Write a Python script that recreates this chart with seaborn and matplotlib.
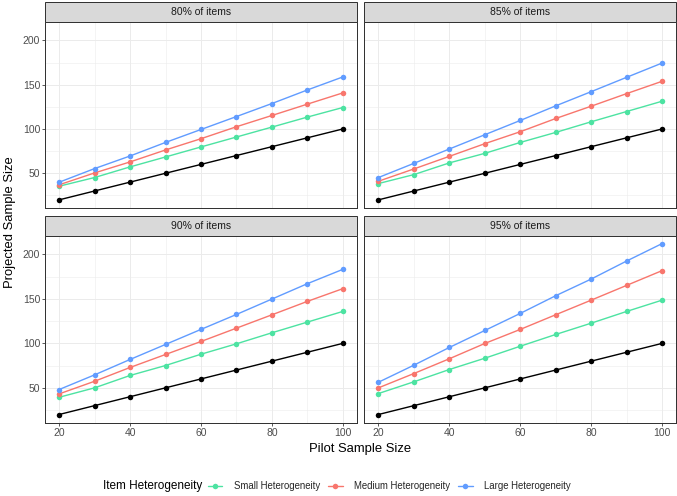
import numpy as np
import pandas as pd
import matplotlib
matplotlib.use("Agg")
import matplotlib.pyplot as plt
from matplotlib.lines import Line2D
from matplotlib.patches import Rectangle
from matplotlib.ticker import FixedLocator
import seaborn as sns

# ---------------- data ----------------
pilot = [20, 30, 40, 50, 60, 70, 80, 90, 100]
panels = ["80% of items", "85% of items", "90% of items", "95% of items"]
hetero = ["Small Heterogeneity", "Medium Heterogeneity", "Large Heterogeneity"]

small_80 = [35.4, 45.2, 57.2, 68.4, 79.7, 90.9, 102.1, 113.4, 124.2]
medium_80 = [37.0, 50.4, 62.8, 76.3, 89.0, 102.5, 115.2, 128.0, 140.7]
large_80 = [39.9, 55.3, 69.5, 84.8, 99.4, 114.0, 128.7, 144.0, 158.7]

small_85 = [38.4, 48.5, 61.7, 72.5, 84.8, 96.1, 108.1, 119.7, 131.3]
medium_85 = [41.0, 54.9, 69.1, 83.4, 96.9, 111.8, 125.7, 139.9, 153.8]
large_85 = [45.2, 61.2, 77.4, 93.5, 109.6, 126.1, 142.1, 158.3, 174.4]

small_90 = [39.4, 50.0, 63.9, 75.1, 87.8, 99.5, 111.9, 123.9, 135.9]
medium_90 = [43.2, 57.4, 72.9, 87.5, 102.1, 117.1, 132.1, 147.2, 161.5]
large_90 = [48.1, 64.6, 81.9, 98.8, 115.7, 132.5, 149.8, 167.1, 183.2]

small_95 = [43.6, 56.8, 70.6, 83.3, 96.8, 110.0, 122.7, 135.9, 148.6]
medium_95 = [50.0, 66.1, 82.7, 99.9, 115.7, 132.2, 148.6, 165.2, 181.8]
large_95 = [56.3, 75.5, 95.4, 114.5, 133.7, 153.6, 172.3, 192.6, 212.2]

baseline = [20, 30, 40, 50, 60, 70, 80, 90, 100]

x_ticks = [20, 40, 60, 80, 100]
y_ticks = [50, 100, 150, 200]

series = {
    "80% of items": [small_80, medium_80, large_80],
    "85% of items": [small_85, medium_85, large_85],
    "90% of items": [small_90, medium_90, large_90],
    "95% of items": [small_95, medium_95, large_95],
}

rows = []
for p in panels:
    for h, vals in zip(hetero, series[p]):
        for x, v in zip(pilot, vals):
            rows.append({"panel": p, "het": h, "pilot": x, "projected": v})
df = pd.DataFrame(rows)
base_df = pd.DataFrame({"pilot": pilot, "projected": baseline})

colors = {"Small Heterogeneity": "#4DE3A2",
          "Medium Heterogeneity": "#F8766D",
          "Large Heterogeneity": "#619CFF"}

# ---------------- figure ----------------
sns.set_style("white")
plt.rcParams["font.family"] = ["Liberation Sans", "DejaVu Sans"]
DPI = 72
W, H = 677, 496
fig = plt.figure(figsize=(W / DPI, H / DPI), dpi=DPI)

SMALL = 10.4
BIG = 13
LEG_TITLE = 11.8
LEG_TEXT = 9.6

def frac_rect(x0, y0, x1, y1):
    return [x0 / W, 1 - y1 / H, (x1 - x0) / W, (y1 - y0) / H]

boxes = [
    (45, 21.7, 357, 208.3),
    (364.3, 21.7, 676.3, 208.3),
    (45, 235.7, 357, 423.0),
    (364.3, 235.7, 676.3, 423.0),
]
strip_h = 19.5
grid_c = "#EBEBEB"
border_c = "#333333"

for i, (p, b) in enumerate(zip(panels, boxes)):
    ax = fig.add_axes(frac_rect(*b))
    sub = df[df.panel == p]
    sns.lineplot(data=sub, x="pilot", y="projected", hue="het",
                 hue_order=hetero, palette=colors, marker="o",
                 markersize=5.5, markeredgewidth=0, linewidth=1.4,
                 legend=False, ax=ax, zorder=3)
    sns.lineplot(data=base_df, x="pilot", y="projected", color="black",
                 marker="o", markersize=5.5, markeredgewidth=0,
                 linewidth=1.4, legend=False, ax=ax, zorder=3)
    ax.set_xlim(16, 104)
    ax.set_ylim(10.45, 221.05)
    ax.xaxis.set_major_locator(FixedLocator(x_ticks))
    ax.yaxis.set_major_locator(FixedLocator(y_ticks))
    ax.xaxis.set_minor_locator(FixedLocator([30, 50, 70, 90]))
    ax.yaxis.set_minor_locator(FixedLocator([25, 75, 125, 175]))
    ax.grid(True, which="major", color=grid_c, linewidth=1.0, zorder=0)
    ax.grid(True, which="minor", color=grid_c, linewidth=0.5, zorder=0)
    ax.set_axisbelow(True)
    for s in ax.spines.values():
        s.set_color(border_c)
        s.set_linewidth(1.0)
        s.set_visible(True)
    ax.set_xlabel("")
    ax.set_ylabel("")
    bottom = i >= 2
    left = i % 2 == 0
    ax.tick_params(axis="x", which="major", bottom=bottom, labelbottom=bottom,
                   length=2.75, width=0.8, color=border_c,
                   labelsize=SMALL, labelcolor="#4D4D4D", pad=2)
    ax.tick_params(axis="y", which="major", left=left, labelleft=left,
                   length=2.75, width=0.8, color=border_c,
                   labelsize=SMALL, labelcolor="#4D4D4D", pad=2)
    ax.tick_params(which="minor", length=0)
    # strip
    ax_h_px = b[3] - b[1]
    strip = Rectangle((0, 1), 1, strip_h / ax_h_px, transform=ax.transAxes,
                      facecolor="#D9D9D9", edgecolor=border_c, linewidth=1.0,
                      clip_on=False, zorder=5)
    ax.add_patch(strip)
    ax.text(0.5, 1 + strip_h / ax_h_px / 2, p, transform=ax.transAxes,
            ha="center", va="center", fontsize=SMALL, color="#1A1A1A", zorder=6)

fig.text(360.5 / W, 1 - 449 / H, "Pilot Sample Size", ha="center", va="center",
         fontsize=BIG, color="black")
fig.text(10 / W, 1 - 222 / H, "Projected Sample Size", ha="center",
         va="center", rotation=90, fontsize=BIG, color="black")

# legend
fig.text(103 / W, 1 - 486 / H, "Item Heterogeneity", ha="left", va="center",
         fontsize=LEG_TITLE, color="black")
handles = [Line2D([0], [0], color=colors[h], marker="o", markersize=5.5,
                  markeredgewidth=0, linewidth=1.4) for h in hetero]
fig.legend(handles, hetero, loc="center left",
           bbox_to_anchor=(207.5 / W, 1 - 486 / H), ncol=3, frameon=False,
           fontsize=LEG_TEXT, handlelength=1.56, handletextpad=1.2,
           columnspacing=0.78, borderpad=0, borderaxespad=0)

fig.savefig("out.png", dpi=DPI)
